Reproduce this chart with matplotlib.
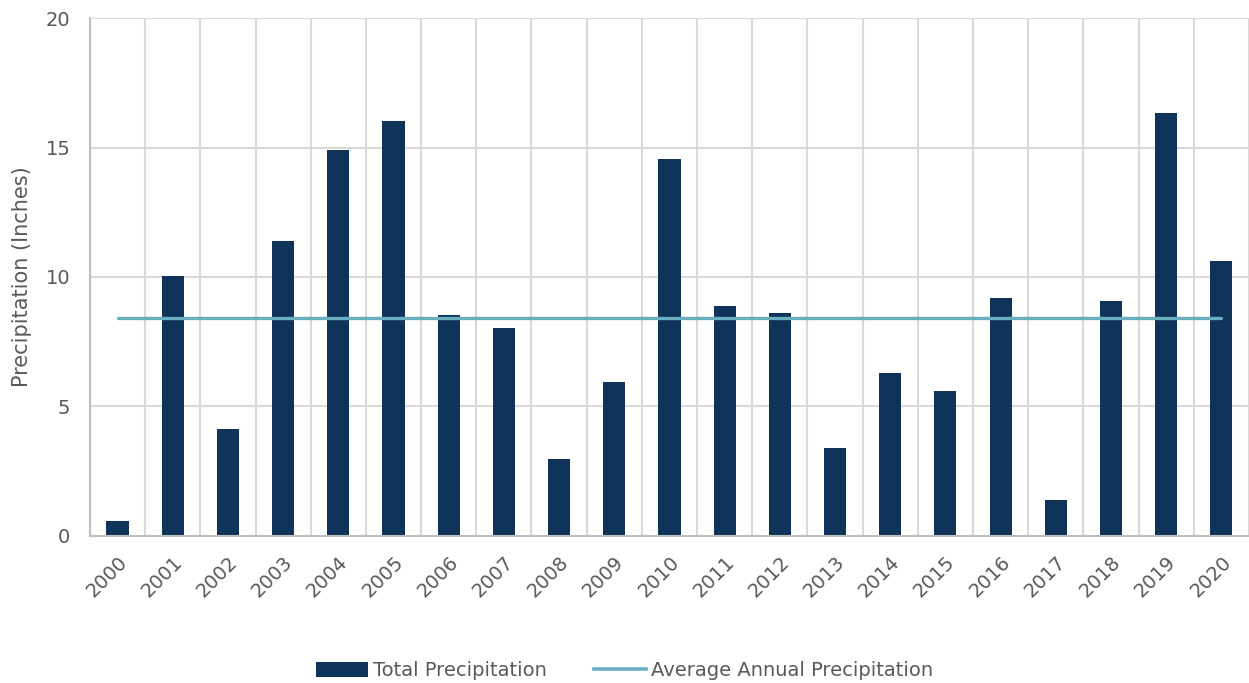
import matplotlib
matplotlib.use("Agg")
import matplotlib.pyplot as plt
from matplotlib.lines import Line2D
from matplotlib.patches import Patch

# Annual precipitation totals (inches)
years = [str(y) for y in range(2000, 2021)]
total_precip = [0.57, 10.05, 4.11, 11.38, 14.92, 16.02, 8.53, 8.02, 2.95, 5.94,
                14.58, 8.88, 8.61, 3.39, 6.30, 5.60, 9.19, 1.38, 9.09, 16.33, 10.60]
avg_annual = 8.41
avg_precip = [avg_annual] * len(years)

y_ticks = [0, 5, 10, 15, 20]

BAR_COLOR = "#10335a"
LINE_COLOR = "#67afbf"
TEXT_COLOR = "#595959"
GRID_COLOR = "#d9d9d9"
SPINE_COLOR = "#bfbfbf"

plt.rcParams["font.family"] = ["DejaVu Sans"]

fig = plt.figure(figsize=(12.49, 6.83), dpi=100)
ax = fig.add_axes([0.072, 0.2157, 0.928, 0.7575])

x = list(range(len(years)))
ax.bar(x, total_precip, width=0.4, color=BAR_COLOR, zorder=3)
ax.plot(x, avg_precip, color=LINE_COLOR, linewidth=2.4, solid_capstyle="round", zorder=4)

ax.set_xlim(-0.5, len(years) - 0.5)
ax.set_ylim(0, 20)
ax.set_yticks(y_ticks)
ax.set_xticks(x)
ax.set_xticklabels(years, rotation=45, ha="right", rotation_mode="anchor")

# Category boundary gridlines
ax.set_xticks([i + 0.5 for i in range(len(years))], minor=True)
ax.grid(True, which="minor", axis="x", color=GRID_COLOR, linewidth=1.5, zorder=0)
ax.grid(True, which="major", axis="y", color=GRID_COLOR, linewidth=1.5, zorder=0)
ax.grid(False, which="major", axis="x")

ax.tick_params(axis="both", which="both", length=0, colors=TEXT_COLOR, labelsize=14)
ax.tick_params(axis="y", pad=14)
ax.tick_params(axis="x", pad=12)

for side in ("top", "right"):
    ax.spines[side].set_visible(False)
for side in ("left", "bottom"):
    ax.spines[side].set_color(SPINE_COLOR)
    ax.spines[side].set_linewidth(1.5)
    ax.spines[side].set_zorder(5)

ax.set_ylabel("Precipitation (Inches)", color=TEXT_COLOR, fontsize=15, labelpad=10)

handles = [Patch(facecolor=BAR_COLOR, edgecolor="none"),
           Line2D([0], [0], color=LINE_COLOR, linewidth=2.6)]
fig.legend(handles, ["Total Precipitation", "Average Annual Precipitation"],
           loc="center", bbox_to_anchor=(0.5, 0.018), ncol=2, frameon=False,
           fontsize=14, labelcolor=TEXT_COLOR, handlelength=2.7, handleheight=0.8,
           handletextpad=0.26, columnspacing=2.4)

fig.savefig("out.png", dpi=100)
